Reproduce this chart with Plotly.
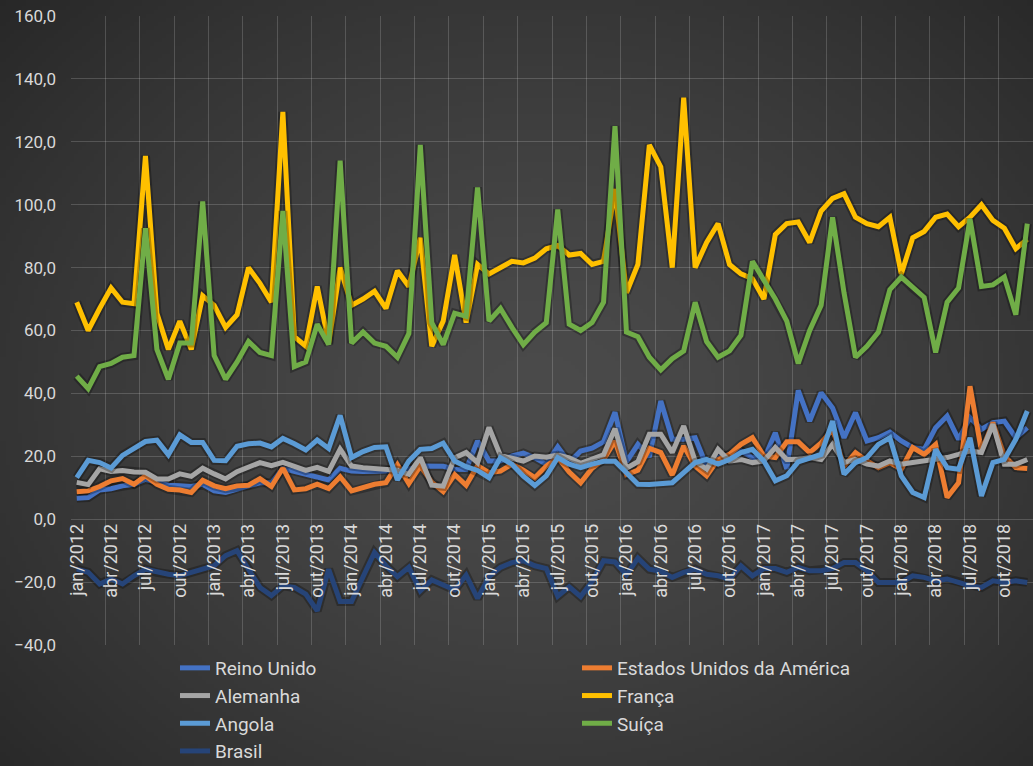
import base64
import struct
import zlib

import numpy as np
import plotly.graph_objects as go

# ---- data: monthly values, jan/2012 .. dez/2018 ----
meses = ["jan", "fev", "mar", "abr", "mai", "jun", "jul", "ago", "set", "out", "nov", "dez"]
periodos = [f"{m}/{a}" for a in range(2012, 2019) for m in meses]

reino_unido = [6.7, 6.9, 9.3, 9.7, 10.6, 11.1, 12.7, 11.9, 10.8, 10.6, 10.4, 11.1,
               9.0, 8.5, 9.7, 10.6, 11.6, 11.6, 16.1, 15.3, 14.3, 13.5, 12.5, 16.2,
               15.3, 15.2, 15.2, 15.3, 15.6, 15.9, 16.9, 16.8, 16.8, 15.9, 15.8, 24.9,
               18.5, 18.5, 20.1, 21.0, 19.5, 17.5, 23.0, 18.0, 21.7, 22.6, 24.6, 34.0,
               18.2, 23.8, 19.8, 37.6, 25.4, 25.4, 25.9, 16.9, 19.6, 20.6, 21.7, 19.6,
               19.0, 27.5, 16.0, 41.0, 31.2, 40.2, 35.4, 25.9, 33.9, 24.9, 25.9, 27.7,
               24.9, 22.8, 22.2, 29.1, 32.8, 25.4, 32.3, 28.6, 30.7, 31.2, 25.9, 29.1]

estados_unidos = [8.7, 9.0, 10.4, 12.2, 12.9, 11.1, 13.8, 11.1, 9.5, 9.3, 8.5, 12.4,
                  10.6, 9.7, 10.6, 10.8, 12.9, 10.4, 16.3, 9.3, 9.7, 11.1, 9.7, 13.5,
                  9.0, 10.0, 11.1, 11.6, 17.3, 11.3, 16.9, 11.8, 8.8, 14.2, 10.8, 17.0,
                  14.8, 15.3, 17.5, 15.6, 13.2, 16.9, 19.6, 15.0, 11.6, 16.2, 19.0, 24.8,
                  14.2, 15.6, 22.5, 21.2, 14.0, 23.3, 16.9, 13.8, 19.0, 20.6, 23.8, 25.9,
                  20.1, 19.6, 24.6, 24.6, 21.2, 24.3, 28.6, 16.9, 21.2, 18.5, 16.4, 18.0,
                  15.9, 22.8, 20.6, 23.8, 6.9, 11.6, 42.3, 21.7, 30.7, 20.1, 16.4, 16.1]

alemanha = [11.7, 11.0, 16.0, 15.2, 15.5, 15.0, 14.9, 12.8, 12.8, 14.4, 13.6, 16.2,
            14.4, 12.8, 15.1, 16.7, 18.0, 17.0, 18.1, 16.8, 15.5, 16.5, 15.2, 22.3,
            16.9, 16.4, 16.2, 16.0, 15.6, 14.3, 19.6, 10.8, 10.5, 19.5, 21.2, 18.0,
            29.2, 20.2, 19.2, 18.5, 20.1, 19.7, 20.4, 19.5, 17.8, 19.3, 20.5, 28.8,
            16.2, 18.3, 27.0, 27.0, 21.2, 29.6, 18.5, 15.9, 22.2, 18.5, 19.0, 18.0,
            18.5, 22.8, 19.0, 19.0, 19.6, 19.0, 23.8, 18.0, 19.0, 17.5, 16.9, 18.5,
            17.5, 18.0, 18.5, 19.0, 19.6, 20.6, 21.7, 21.2, 30.2, 17.5, 17.5, 19.0]

franca = [69.0, 60.0, 67.0, 73.5, 69.0, 68.5, 115.5, 65.5, 54.0, 63.0, 54.0, 71.0,
          68.0, 61.0, 65.0, 80.0, 75.0, 69.0, 129.5, 58.0, 55.0, 74.0, 56.0, 80.0,
          68.0, 70.0, 72.5, 67.0, 79.0, 74.0, 89.5, 55.0, 63.0, 84.0, 62.5, 81.0,
          78.0, 80.0, 82.0, 81.5, 83.0, 86.0, 87.0, 84.0, 84.5, 81.0, 82.0, 105.0,
          72.0, 81.0, 119.0, 112.0, 80.0, 134.0, 80.0, 88.0, 94.0, 81.0, 78.0, 76.5,
          70.0, 90.5, 94.0, 94.5, 88.0, 98.0, 102.0, 103.5, 96.0, 94.0, 93.0, 96.0,
          78.0, 89.5, 91.5, 96.0, 97.0, 93.0, 96.0, 100.0, 95.0, 92.5, 86.0, 89.0]

angola = [13.2, 18.7, 18.0, 16.3, 20.3, 22.6, 24.7, 25.1, 20.5, 26.8, 24.4, 24.4,
          18.7, 18.6, 23.2, 24.0, 24.2, 23.0, 25.7, 24.0, 22.0, 25.2, 22.5, 33.0,
          19.6, 21.5, 22.8, 23.0, 12.5, 18.5, 22.2, 22.5, 24.2, 18.5, 16.7, 15.5,
          13.2, 19.6, 17.5, 13.7, 10.7, 13.8, 19.6, 17.5, 16.4, 17.5, 18.4, 18.4,
          14.8, 11.1, 11.0, 11.3, 11.6, 14.8, 18.0, 19.0, 17.5, 19.0, 21.2, 22.2,
          18.5, 12.2, 13.8, 18.2, 19.6, 20.6, 31.2, 14.3, 18.0, 19.6, 23.8, 25.9,
          13.8, 8.5, 6.9, 22.2, 16.4, 15.9, 25.9, 7.4, 18.0, 19.0, 25.4, 34.4]

suica = [45.5, 41.5, 48.5, 49.5, 51.5, 52.0, 92.5, 54.0, 44.5, 56.0, 56.0, 101.0,
         52.0, 44.5, 50.0, 56.5, 53.0, 52.0, 98.0, 48.5, 50.0, 62.0, 55.5, 114.0,
         56.0, 59.5, 56.0, 55.0, 51.5, 59.0, 119.0, 62.5, 55.5, 65.5, 64.5, 105.5,
         63.0, 67.0, 61.0, 55.5, 59.5, 62.5, 98.5, 62.0, 60.0, 62.5, 69.0, 125.0,
         59.5, 58.0, 51.5, 47.5, 51.0, 53.5, 69.0, 56.5, 51.5, 53.5, 58.5, 82.0,
         76.0, 70.0, 63.0, 49.5, 60.0, 68.0, 96.0, 72.0, 51.5, 55.0, 59.5, 73.0,
         77.0, 73.5, 70.5, 53.0, 69.0, 73.5, 95.5, 74.0, 74.5, 77.0, 65.0, 94.0]

brasil = [-15.9, -16.9, -20.6, -19.0, -20.6, -18.0, -15.9, -16.9, -17.5, -18.0, -16.9, -15.9,
          -14.8, -11.6, -10.0, -15.9, -21.7, -24.3, -21.2, -21.7, -23.8, -29.1, -15.9, -26.2,
          -26.2, -18.3, -10.6, -14.8, -18.3, -15.3, -22.8, -19.3, -20.9, -22.5, -17.8, -25.2,
          -18.3, -15.3, -13.8, -13.2, -14.8, -15.7, -24.5, -21.5, -24.6, -19.8, -13.2, -13.6,
          -17.7, -12.4, -15.9, -16.6, -18.5, -16.9, -15.9, -17.5, -18.0, -19.0, -14.8, -18.0,
          -15.7, -15.7, -16.9, -15.3, -16.4, -16.4, -15.7, -13.8, -13.8, -16.4, -20.1, -20.1,
          -20.1, -18.0, -18.5, -19.6, -19.0, -20.1, -21.2, -21.7, -19.6, -20.1, -19.6, -20.1]

series = [
    ("Reino Unido", reino_unido, "#4472C4"),
    ("Estados Unidos da América", estados_unidos, "#ED7D31"),
    ("Alemanha", alemanha, "#A5A5A5"),
    ("França", franca, "#FFC000"),
    ("Angola", angola, "#5B9BD5"),
    ("Suíça", suica, "#70AD47"),
    ("Brasil", brasil, "#264478"),
]

# ---- page geometry ----
W, H = 1033, 766
ML, MR, MT, MB = 71, 0, 16, 121
PW, PH = W - ML - MR, H - MT - MB
Y_MIN, Y_MAX = -40, 160


def radial_png(w, h):
    """Small radial-gradient PNG used as the chart background."""
    yy, xx = np.mgrid[0:h, 0:w]
    dx = (xx / (w - 1) - 0.52) / 0.72
    dy = (yy / (h - 1) - 0.52) / 0.78
    r = np.clip(np.sqrt(dx * dx + dy * dy), 0, 1)
    v = (0x4b - (0x4b - 0x27) * r ** 1.4).astype(np.uint8)
    raw = b"".join(b"\x00" + bytes(np.repeat(row, 3)) for row in v)

    def chunk(tag, data):
        c = struct.pack(">I", len(data)) + tag + data
        return c + struct.pack(">I", zlib.crc32(tag + data) & 0xFFFFFFFF)

    png = b"\x89PNG\r\n\x1a\n"
    png += chunk(b"IHDR", struct.pack(">IIBBBBB", w, h, 8, 2, 0, 0, 0))
    png += chunk(b"IDAT", zlib.compress(raw, 9))
    png += chunk(b"IEND", b"")
    return "data:image/png;base64," + base64.b64encode(png).decode()


x_idx = list(range(len(periodos)))
fig = go.Figure()

for nome, valores, cor in series:
    # soft dark halo under each line
    fig.add_trace(go.Scatter(
        x=x_idx, y=valores, mode="lines", showlegend=False, hoverinfo="skip",
        line=dict(color="rgba(0,0,0,0.28)", width=9),
    ))
    fig.add_trace(go.Scatter(
        x=x_idx, y=valores, mode="lines", name=nome,
        line=dict(color=cor, width=5),
    ))

FONT = "Roboto, Open Sans, sans-serif"
TXT = "#d9d9d9"
GRID = "rgba(255,255,255,0.17)"

n = len(periodos)
label_pos = list(range(0, n, 3))
grid_pos = [k - 0.5 for k in range(0, n + 1, 3)]
y_zero_frac = (0 - Y_MIN) / (Y_MAX - Y_MIN)

fig.update_layout(
    width=W, height=H,
    margin=dict(l=ML, r=MR, t=MT, b=MB, pad=0, autoexpand=False),
    paper_bgcolor="#383838",
    plot_bgcolor="rgba(0,0,0,0)",
    separators=", ",
    font=dict(family=FONT, color=TXT),
    xaxis=dict(
        range=[-0.5, n - 0.5], tickmode="array", tickvals=grid_pos,
        showticklabels=False, showgrid=True, gridcolor=GRID, gridwidth=1,
        zeroline=False, showline=False, ticks="",
    ),
    xaxis2=dict(
        overlaying="x", matches="x", anchor="free", position=y_zero_frac,
        tickmode="array", tickvals=label_pos,
        ticktext=[periodos[i] for i in label_pos],
        tickangle=-90, tickfont=dict(size=18, color=TXT, family=FONT),
        showgrid=False, zeroline=False, showline=False, ticks="",
        ticklabelstandoff=0,
    ),
    yaxis=dict(
        range=[Y_MIN, Y_MAX], dtick=20, tick0=0, tickformat=".1f",
        showgrid=True, gridcolor=GRID, gridwidth=1,
        zeroline=True, zerolinecolor=GRID, zerolinewidth=1,
        showline=False, ticks="", ticklabelstandoff=14,
        tickfont=dict(size=17, color=TXT, family=FONT),
    ),
    legend=dict(
        orientation="h", xref="container", yref="container",
        x=175 / W, xanchor="left", y=1 - 649 / H, yanchor="top",
        entrywidth=357, entrywidthmode="pixels",
        font=dict(size=19, color=TXT, family=FONT),
        bgcolor="rgba(0,0,0,0)", itemwidth=30, tracegroupgap=0,
    ),
    images=[dict(
        source=radial_png(258, 192), xref="paper", yref="paper",
        x=-ML / PW, y=1 + MT / PH, sizex=W / PW, sizey=H / PH,
        xanchor="left", yanchor="top", sizing="stretch", layer="below",
    )],
)

# an invisible trace on the label axis so it is rendered
fig.add_trace(go.Scatter(x=[0], y=[None], xaxis="x2", showlegend=False, hoverinfo="skip"))

fig.write_html("out.html")
